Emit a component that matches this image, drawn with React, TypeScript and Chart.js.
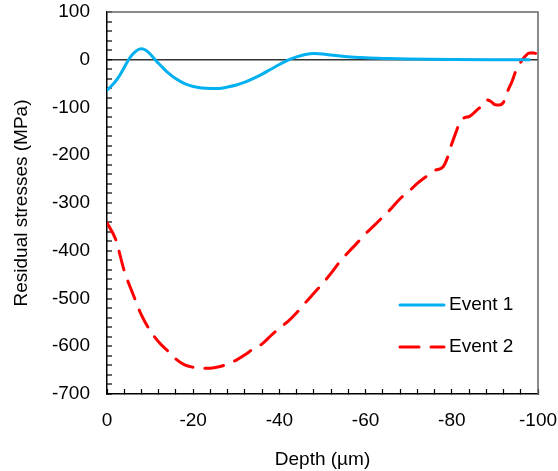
import React, { useEffect, useRef } from "react";
import { Chart, registerables } from "chart.js";

Chart.register(...registerables);

const FONT = "'Liberation Sans', Arial, sans-serif";
const FS = 19;

// Event 1 (blue, solid)
const event1Depth = [0, -1, -2, -3, -4, -5, -6, -7, -8, -9, -10, -11, -12, -13, -14, -16, -18, -20, -22, -24, -26, -28, -30, -32, -34, -36, -38, -40, -42, -44, -46, -48, -50, -52, -55, -60, -65, -70, -80, -90, -98];
const event1Stress = [-64, -55, -45, -32, -16, 0, 12, 20, 23, 20, 12, 2, -8, -17, -26, -40, -50, -56, -59, -60, -60, -57, -53, -47, -39, -30, -20, -10, -1, 6, 11, 13, 12, 10, 7, 4, 2.5, 1.5, 0.5, 0, 0];

// Event 2 (red, dashed)
const event2Depth = [0, -2, -4, -6, -8, -10, -12, -14, -16, -18, -20, -22, -24, -26, -28, -30, -32, -34, -36, -38, -40, -42, -44, -46, -48, -50, -52, -54, -56, -58, -60, -62, -64, -66, -68, -70, -72, -74, -76, -78, -79, -80, -81, -82, -83, -84, -86, -87, -88, -89, -90, -91, -92, -93, -94, -95, -96, -97, -98, -99, -100];
const event2Stress = [-342, -376, -442, -490, -535, -567, -591, -609, -627, -639, -644, -646, -646, -643, -637, -629, -618, -605, -595, -578, -562, -548, -530, -509, -489, -469, -447, -423, -403, -384, -364, -347, -329, -311, -291, -276, -259, -245, -232, -224, -205, -176, -151, -128, -121, -119, -104, -96, -84, -87, -94, -95, -89, -65, -45, -20, -5, 7, 14, 14, 12];

const seriesLabels = ["Event 1", "Event 2"];
const xTitle = "Depth (µm)";
const yTitle = "Residual stresses (MPa)";

const toPoints = (xs: number[], ys: number[]) => xs.map((x, i) => ({ x, y: ys[i] }));

export default function App() {
  const ref = useRef<HTMLCanvasElement | null>(null);

  useEffect(() => {
    if (!ref.current) return;

    const framePlugin = {
      id: "frame",
      beforeDatasetsDraw(chart: any) {
        const { ctx, chartArea } = chart;
        ctx.save();
        ctx.strokeStyle = "#666666";
        ctx.lineWidth = 1.5;
        ctx.beginPath();
        ctx.moveTo(chartArea.left, chartArea.top);
        ctx.lineTo(chartArea.right, chartArea.top);
        ctx.lineTo(chartArea.right, chartArea.bottom);
        ctx.stroke();
        ctx.restore();
      },
    };

    const legendPlugin = {
      id: "insideLegend",
      afterDraw(chart: any) {
        const { ctx, chartArea } = chart;
        const x0 = chartArea.right - 138;
        const x1 = chartArea.right - 94;
        const ys = [chartArea.top + 293, chartArea.top + 335];
        ctx.save();
        chart.data.datasets.forEach((ds: any, i: number) => {
          const y = ys[i];
          ctx.strokeStyle = ds.borderColor;
          ctx.lineWidth = ds.borderWidth;
          ctx.lineCap = ds.borderCapStyle || "butt";
          ctx.setLineDash(ds.borderDash || []);
          ctx.beginPath();
          ctx.moveTo(x0, y);
          ctx.lineTo(x1, y);
          ctx.stroke();
          ctx.setLineDash([]);
          ctx.fillStyle = "#000";
          ctx.font = `${FS}px ${FONT}`;
          ctx.textBaseline = "middle";
          ctx.textAlign = "left";
          ctx.fillText(ds.label, x1 + 5, y);
        });
        ctx.restore();
      },
    };

    const chart = new Chart(ref.current, {
      type: "line",
      data: {
        datasets: [
          {
            label: seriesLabels[0],
            data: toPoints(event1Depth, event1Stress),
            borderColor: "#00B0F0",
            borderWidth: 3,
            pointRadius: 0,
            cubicInterpolationMode: "monotone",
            fill: false,
            borderCapStyle: "round",
          },
          {
            label: seriesLabels[1],
            data: toPoints(event2Depth, event2Stress),
            borderColor: "#FF0000",
            borderWidth: 3,
            borderDash: [19, 12],
            borderCapStyle: "round",
            pointRadius: 0,
            cubicInterpolationMode: "monotone",
            fill: false,
          },
        ],
      },
      options: {
        animation: false,
        responsive: false,
        maintainAspectRatio: false,
        layout: { padding: { top: 12, right: 20, left: 0, bottom: 0 } },
        plugins: { legend: { display: false }, tooltip: { enabled: false } },
        scales: {
          x: {
            type: "linear",
            min: -100,
            max: 0,
            reverse: true,
            afterFit: (s: any) => {
              s.height = 77;
              s.paddingLeft = 0;
              s.paddingRight = 0;
            },
            border: { color: "#000", width: 1.5 },
            grid: {
              drawOnChartArea: false,
              drawTicks: true,
              tickLength: -5,
              tickColor: "#000",
              tickWidth: 1.2,
            },
            ticks: {
              stepSize: 4,
              autoSkip: false,
              maxRotation: 0,
              padding: 20,
              color: "#000",
              font: { family: FONT, size: FS },
              callback: (v: any) => (Math.round(v) % 20 === 0 ? String(Math.round(v)) : ""),
            },
            title: {
              display: true,
              text: xTitle,
              color: "#000",
              font: { family: FONT, size: FS },
              padding: { top: 0, bottom: 0 },
            },
          },
          y: {
            type: "linear",
            min: -700,
            max: 100,
            afterFit: (s: any) => {
              s.width = 107;
              s.paddingTop = 0;
              s.paddingBottom = 0;
            },
            border: { color: "#000", width: 1.5 },
            grid: {
              drawOnChartArea: true,
              drawTicks: true,
              tickLength: -5,
              tickColor: "#000",
              tickWidth: 1.2,
              color: (c: any) => (c.tick && c.tick.value === 0 ? "#333333" : "rgba(0,0,0,0)"),
              lineWidth: (c: any) => (c.tick && c.tick.value === 0 ? 1.5 : 0),
            },
            ticks: {
              stepSize: 20,
              autoSkip: false,
              padding: 22,
              color: "#000",
              font: { family: FONT, size: FS },
              callback: (v: any) => (Math.round(v) % 100 === 0 ? String(Math.round(v)) : ""),
            },
            title: {
              display: true,
              text: yTitle,
              color: "#000",
              font: { family: FONT, size: FS },
              padding: { top: 10, bottom: 0 },
            },
          },
        },
      },
      plugins: [framePlugin, legendPlugin],
    } as any);

    return () => chart.destroy();
  }, []);

  return (
    <div style={{ position: "absolute", left: 0, top: 0, width: 558, height: 471, background: "#fff" }}>
      <canvas ref={ref} width={558} height={471} style={{ display: "block", width: 558, height: 471 }} />
    </div>
  );
}
